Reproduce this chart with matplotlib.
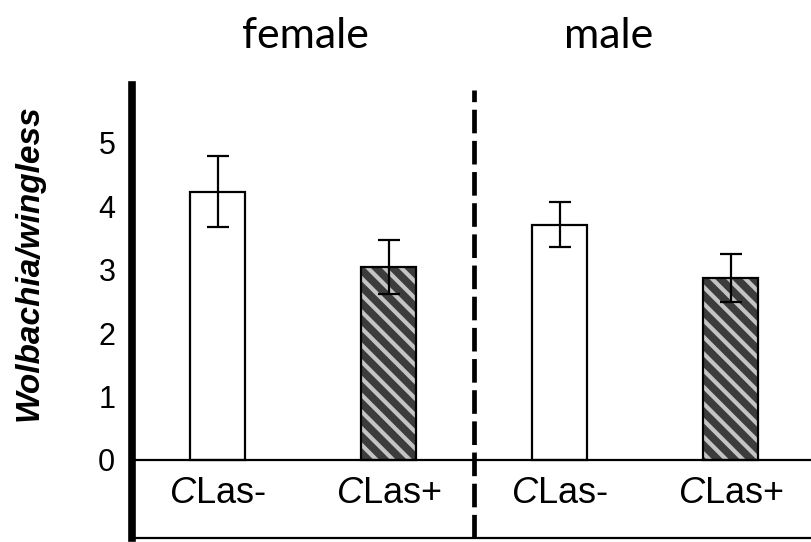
import matplotlib
matplotlib.use("Agg")
import matplotlib.pyplot as plt

plt.rcParams['font.family'] = ['Liberation Sans', 'DejaVu Sans']
plt.rcParams['mathtext.fontset'] = 'custom'
plt.rcParams['mathtext.rm'] = 'Liberation Sans'
plt.rcParams['mathtext.it'] = 'Liberation Sans:italic'
plt.rcParams['hatch.linewidth'] = 3.0

# wolbachia / wingless ratio, females then males
groups = ['female', 'male']
labels = ['$\\it{C}$Las-', '$\\it{C}$Las+', '$\\it{C}$Las-', '$\\it{C}$Las+']
means = [4.23, 3.04, 3.71, 2.87]
errs = [0.56, 0.43, 0.35, 0.38]
hatched = [False, True, False, True]

pos = list(range(len(means)))
width = 0.32

fig = plt.figure(figsize=(8.11, 5.42), dpi=100)
ax = fig.add_axes([0.1628, 0.0074, 0.8372, 0.8358])

for x, m, e, h in zip(pos, means, errs, hatched):
    if h:
        ax.bar(x, m, width, color='#3c3c3c', edgecolor='#c4c4c4', hatch='\\\\', linewidth=0)
        ax.bar(x, m, width, fill=False, edgecolor='black', linewidth=1.6)
    else:
        ax.bar(x, m, width, color='white', edgecolor='black', linewidth=1.6)
    ax.errorbar(x, m, yerr=e, color='black', elinewidth=1.6, capsize=8, capthick=1.6)

ax.axhline(0, color='black', lw=1.6)
ax.axvline(1.5, ymin=0, ymax=0.99, color='black', lw=3.4, dashes=(5, 1.6))

for x, lab in zip(pos, labels):
    ax.text(x, -0.53, lab, ha='center', va='center', fontsize=26)

ax.set_xlim(-0.5, 3.47)
ax.set_ylim(-1.23, 5.91)
ax.set_xticks([])
ax.set_yticks(range(6))
ax.tick_params(axis='y', length=0, pad=12, labelsize=22)

for s in ['top', 'right']:
    ax.spines[s].set_visible(False)
ax.spines['left'].set_linewidth(5.5)
ax.spines['bottom'].set_linewidth(1.6)

fig.text(0.036, 0.515, 'Wolbachia/wingless', rotation=90, ha='center', va='center',
         fontsize=24, fontweight='bold', fontstyle='italic')

for g, xc in zip(groups, [305, 609]):
    fig.text(xc / 811, 1 - 36 / 542, g, ha='center', va='center',
             fontsize=31, family=['Lato', 'DejaVu Sans'])

fig.savefig('out.png', dpi=100)
